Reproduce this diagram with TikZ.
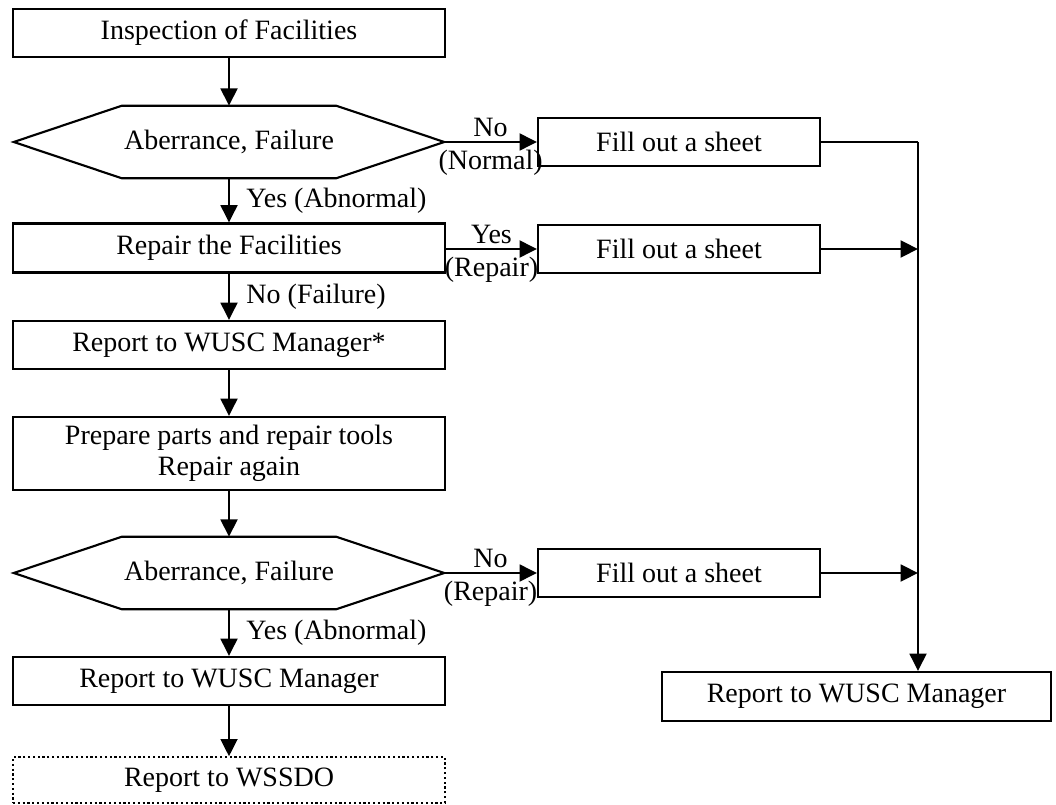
\documentclass[tikz,border=0pt]{standalone}
\usepackage{fontspec}
\setmainfont{Liberation Serif}
\usetikzlibrary{arrows.meta, calc}

\begin{document}
\begin{tikzpicture}[
        x=0.75pt, y=-0.75pt,
        every node/.style={font=\fontsize{21pt}{23pt}\selectfont},
        bx/.style={draw, line width=1.6pt, inner sep=0pt, align=center,
          minimum width=324pt, minimum height=36pt},
        sheet/.style={bx, minimum width=211.5pt},
        hx/.style={inner sep=0pt, minimum width=322.5pt, minimum height=54pt},
        ed/.style={line width=2.2pt},
        ar/.style={ed, -{Triangle[length=13pt,width=12.5pt]}},
        up/.style={above, inner sep=3pt},
        dn/.style={below, inner sep=5pt}
      ]
      \useasboundingbox (0,0) rectangle (1056,805);

      % main column
      \node[bx] (insp) at (229,33) {Inspection of Facilities};
      \node[hx] (h1) at (229,142) {Aberrance, Failure};
      \node[bx, minimum height=36.75pt] (rep) at (229,248) {Repair the Facilities};
      \node[bx] (mgr1) at (229,345) {Report to WUSC Manager*};
      \node[bx, minimum height=54.75pt] (prep) at (229,453.5)
        {Prepare parts and repair tools\\Repair again};
      \node[hx] (h2) at (229,573) {Aberrance, Failure};
      \node[bx] (mgr2) at (229,681) {Report to WUSC Manager};
      \node[bx, dotted, line width=1pt, minimum height=34.5pt] (wssdo) at (229,780)
        {Report to WSSDO};

      % sheets and final report
      \node[sheet] (s1) at (679,142) {Fill out a sheet};
      \node[sheet] (s2) at (679,249) {Fill out a sheet};
      \node[sheet] (s3) at (679,573) {Fill out a sheet};
      \node[bx, minimum width=291.75pt, minimum height=36.75pt] (mgr3) at (856.5,696.5)
        {Report to WUSC Manager};
      \coordinate (j) at (918,142);

      % decision outlines
      \foreach \h in {h1,h2} {
        \draw[line width=1.6pt] (\h.west) -- ($(\h.north west)+(108,0)$)
          -- ($(\h.north east)+(-108,0)$) -- (\h.east)
          -- ($(\h.south east)+(-108,0)$) -- ($(\h.south west)+(108,0)$) -- cycle;
      }

      \draw[ar] (insp) -- (h1);
      \draw[ar] (h1) -- node[right=12pt, inner sep=0pt] {Yes (Abnormal)} (rep);
      \draw[ar] (rep) -- node[right=12pt, inner sep=0pt] {No (Failure)} (mgr1);
      \draw[ar] (mgr1) -- (prep);
      \draw[ar] (prep) -- (h2);
      \draw[ar] (h2) -- node[right=12pt, inner sep=0pt] {Yes (Abnormal)} (mgr2);
      \draw[ar] (mgr2) -- (wssdo);

      \draw[ar] (h1.east) -- node[up] {No} node[dn] {(Normal)} (s1);
      \draw[ar] (rep.east |- s2) -- node[up] {Yes} node[dn] {(Repair)} (s2);
      \draw[ar] (h2.east) -- node[up] {No} node[dn] {(Repair)} (s3);

      \draw[ed] (s1) -- (j);
      \draw[ar] (s2) -- (s2 -| j);
      \draw[ar] (s3) -- (s3 -| j);
      \draw[ar] (j) -- (j |- mgr3.north);
    \end{tikzpicture}
\end{document}
